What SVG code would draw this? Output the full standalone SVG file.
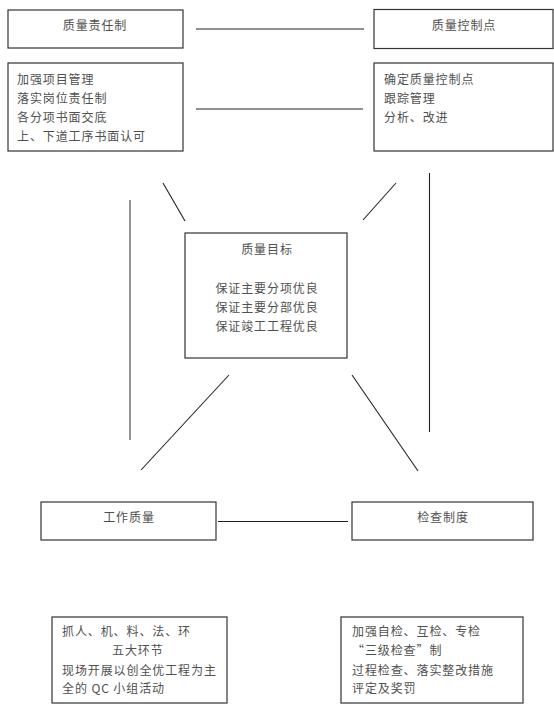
<svg xmlns="http://www.w3.org/2000/svg" width="554" height="714" viewBox="0 0 554 714">
<style>
.b{fill:#fff;stroke:#333;stroke-width:1.2}
text{font-family:"Noto Sans CJK SC","Noto Sans",sans-serif;font-size:12px;fill:#505050;letter-spacing:0.9px}
.c{text-anchor:middle}
.ln{stroke:#222;stroke-width:1.1;fill:none}
.gl{stroke:#8a8a8a;stroke-width:1.8;fill:none}
</style>
<rect width="554" height="714" fill="#fff"/>
<g id="connectors">
<line class="ln" x1="196" y1="29" x2="364" y2="29"/>
<line class="ln" x1="196" y1="109" x2="363" y2="109"/>
<line class="ln" x1="163" y1="183" x2="185" y2="221"/>
<line class="ln" x1="396" y1="183" x2="363" y2="220"/>
<line class="gl" x1="130" y1="200" x2="130" y2="440"/>
<line class="ln" x1="429.5" y1="173" x2="429.5" y2="432"/>
<line class="ln" x1="229" y1="375" x2="141" y2="470"/>
<line class="ln" x1="352" y1="375" x2="418" y2="471"/>
<line class="ln" x1="218" y1="521.5" x2="348" y2="521.5"/>
</g>
<g id="n1">
<rect class="b" x="8" y="10" width="175" height="38"/>
<text class="c" x="95" y="29.5">质量责任制</text>
</g>
<g id="n2">
<rect class="b" x="8" y="63" width="175" height="88"/>
<text x="17" y="83.5">加强项目管理</text>
<text x="17" y="102.5">落实岗位责任制</text>
<text x="17" y="121.5">各分项书面交底</text>
<text x="17" y="141">上、下道工序书面认可</text>
</g>
<g id="n3">
<rect class="b" x="374" y="9.5" width="179" height="39"/>
<text class="c" x="464" y="29.5">质量控制点</text>
</g>
<g id="n4">
<rect class="b" x="374" y="63" width="179" height="88"/>
<text x="384" y="83.5">确定质量控制点</text>
<text x="384" y="102.5">跟踪管理</text>
<text x="384" y="121.5">分析、改进</text>
</g>
<g id="n5">
<rect class="b" x="185" y="233" width="162" height="125"/>
<text class="c" x="267" y="253.5">质量目标</text>
<text class="c" x="267" y="292.5">保证主要分项优良</text>
<text class="c" x="267" y="311.5">保证主要分部优良</text>
<text class="c" x="267" y="330.5">保证竣工工程优良</text>
</g>
<g id="n6">
<rect class="b" x="41" y="502" width="175" height="38"/>
<text class="c" x="129" y="521.5">工作质量</text>
</g>
<g id="n7">
<rect class="b" x="352" y="502" width="181" height="38"/>
<text class="c" x="443" y="521.5">检查制度</text>
</g>
<g id="n8">
<rect class="b" x="52" y="617" width="175" height="86"/>
<text x="62" y="635.5">抓人、机、料、法、环</text>
<text x="112" y="655">五大环节</text>
<text x="62" y="674.5">现场开展以创全优工程为主</text>
<text x="62" y="692.5">全的 QC 小组活动</text>
</g>
<g id="n9">
<rect class="b" x="341" y="617" width="182" height="86"/>
<text x="352" y="635.5">加强自检、互检、专检</text>
<text x="352" y="655">“三级检查”制</text>
<text x="352" y="674.5">过程检查、落实整改措施</text>
<text x="352" y="692.5">评定及奖罚</text>
</g>
</svg>
